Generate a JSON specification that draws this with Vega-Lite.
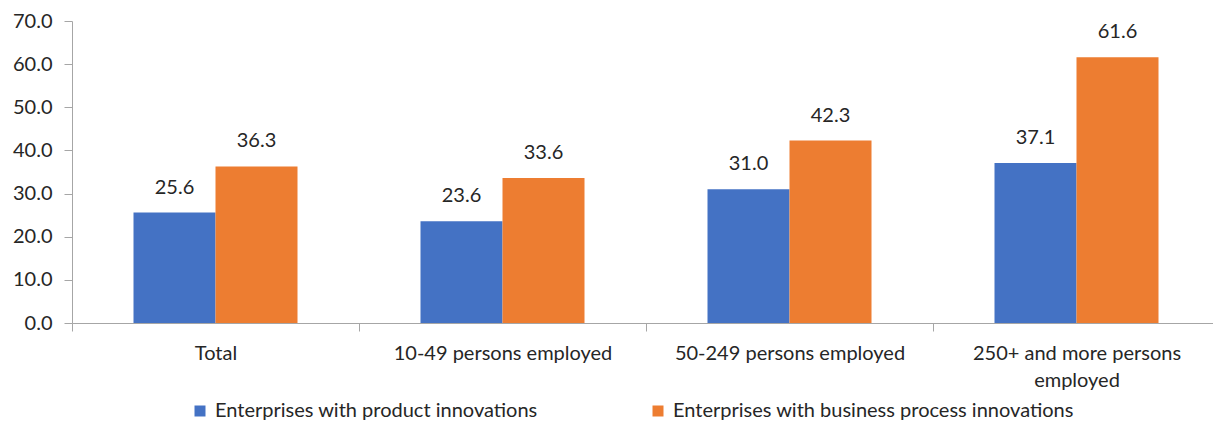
{
  "$schema": "https://vega.github.io/schema/vega-lite/v6.json",
  "autosize": {"type": "none"},
  "padding": {"left": 72, "top": 21, "right": 0, "bottom": 98},
  "width": 1148,
  "height": 302,
  "background": "white",
  "config": {
    "font": "Lato",
    "view": {"stroke": null}
  },
  "data": {
    "values": [
      {"size": "Total", "series": "Enterprises with product innovations", "value": 25.6},
      {"size": "Total", "series": "Enterprises with business process innovations", "value": 36.3},
      {"size": "10-49 persons employed", "series": "Enterprises with product innovations", "value": 23.6},
      {"size": "10-49 persons employed", "series": "Enterprises with business process innovations", "value": 33.6},
      {"size": "50-249 persons employed", "series": "Enterprises with product innovations", "value": 31.0},
      {"size": "50-249 persons employed", "series": "Enterprises with business process innovations", "value": 42.3},
      {"size": "250+ and more persons employed", "series": "Enterprises with product innovations", "value": 37.1},
      {"size": "250+ and more persons employed", "series": "Enterprises with business process innovations", "value": 61.6}
    ]
  },
  "encoding": {
    "x": {
      "field": "size", "type": "nominal", "sort": null,
      "scale": {"paddingInner": 0, "paddingOuter": 0},
      "axis": {
        "title": null, "labelAngle": 0, "labelFontSize": 20, "labelColor": "#262626",
        "domainColor": "#a6a6a6", "tickColor": "#a6a6a6", "tickBand": "extent", "tickSize": 8,
        "labelPadding": 12, "labelLineHeight": 27, "labelLimit": 0,
        "labelExpr": "datum.value == '250+ and more persons employed' ? ['250+ and more persons', 'employed'] : datum.value"
      }
    },
    "xOffset": {
      "field": "series", "type": "nominal", "sort": null,
      "scale": {"paddingInner": 0, "paddingOuter": 0.75}
    },
    "y": {
      "field": "value", "type": "quantitative",
      "scale": {"domain": [0, 70]},
      "axis": {
        "title": null, "values": [0, 10, 20, 30, 40, 50, 60, 70], "format": ".1f",
        "grid": false, "labelFontSize": 20, "labelColor": "#262626",
        "domainColor": "#a6a6a6", "tickColor": "#a6a6a6", "tickSize": 8, "labelPadding": 12
      }
    }
  },
  "layer": [
    {
      "mark": {"type": "bar"},
      "encoding": {
        "color": {
          "field": "series", "type": "nominal", "sort": null,
          "scale": {"domain": ["Enterprises with product innovations", "Enterprises with business process innovations"], "range": ["#4472C4", "#ED7D31"]},
          "legend": {
            "title": null, "orient": "none", "direction": "horizontal",
            "legendX": 118, "legendY": 380, "symbolType": "square", "symbolSize": 121,
            "labelFontSize": 20, "labelColor": "#262626", "columnPadding": 110,
            "symbolStrokeWidth": 0, "labelOffset": 5, "padding": 0, "labelLimit": 500
          }
        }
      }
    },
    {
      "mark": {"type": "text", "baseline": "alphabetic", "dy": -19, "fontSize": 20, "color": "#262626"},
      "encoding": {
        "text": {"field": "value", "type": "quantitative", "format": ".1f"}
      }
    }
  ]
}
